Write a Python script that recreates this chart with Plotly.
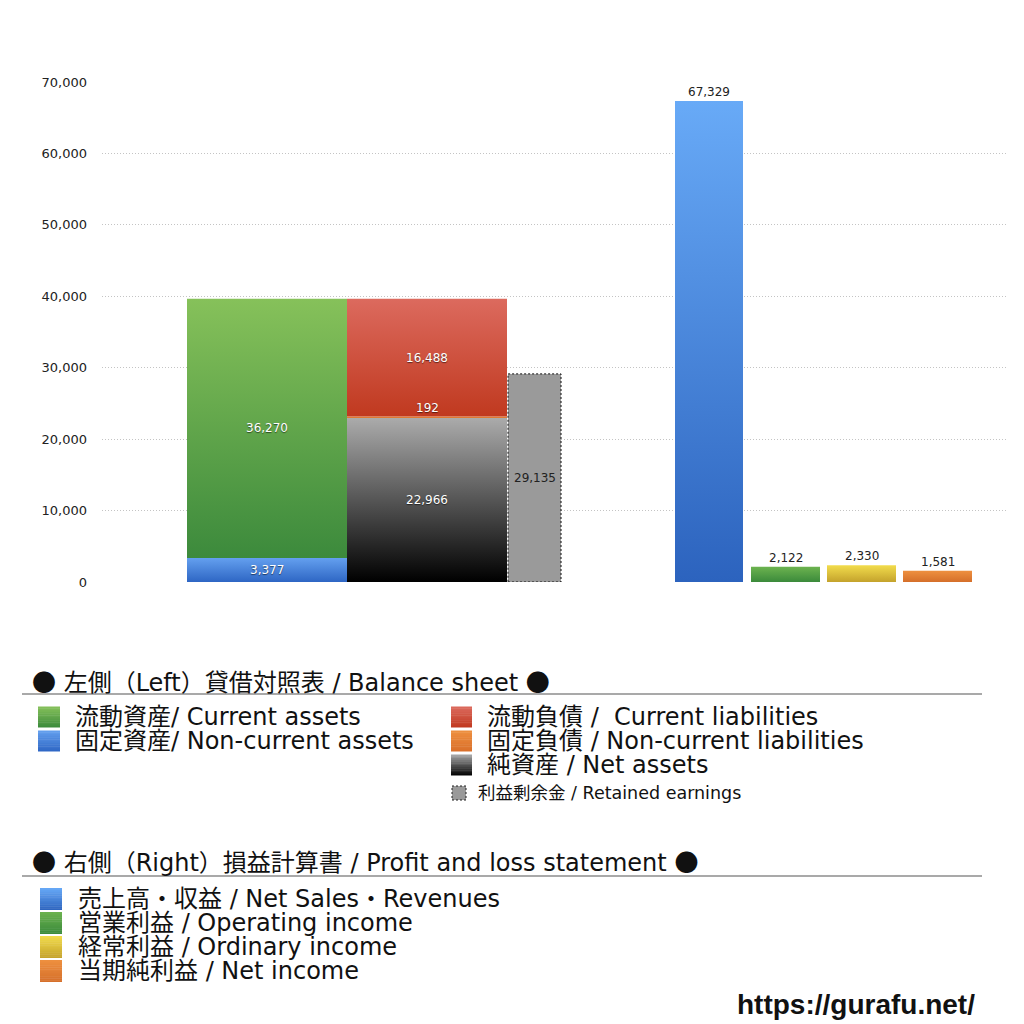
import plotly.graph_objects as go

# ---------------- data ----------------
assets_labels = ["固定資産/ Non-current assets", "流動資産/ Current assets"]
assets_values = [3377, 36270]                      # bottom -> top
liab_labels = ["純資産 / Net assets", "固定負債 / Non-current liabilities", "流動負債 /  Current liabilities"]
liab_values = [22966, 192, 16488]                 # bottom -> top
retained_label = "利益剰余金 / Retained earnings"
retained_value = 29135
pl_labels = ["売上高・収益 / Net Sales・Revenues", "営業利益 / Operating income",
             "経常利益 / Ordinary income", "当期純利益 / Net income"]
pl_values = [67329, 2122, 2330, 1581]
y_ticks = [0, 10000, 20000, 30000, 40000, 50000, 60000, 70000]

# ---------------- styles ----------------
FONT = "DejaVu Sans, Noto Sans CJK JP"
CJK = "Noto Sans CJK JP"
W = H = 1016                  # figure size (page adds an 8px margin)
OFF = 8
PX0, PX1 = 102, 1007          # plot area horizontal extent (page px)
PY_TOP, PY_BOT = 82, 582      # plot area vertical extent (page px)

assets_grad = [("#2e66c4", "#64a0ef"), ("#3c8a3c", "#86c15a")]
liab_grad = [("#000000", "#ababab"), ("#d96f2a", "#ee9040"), ("#c0391f", "#dc6a5e")]
pl_grad = [("#2c63be", "#68aaf7"), ("#3b8a3b", "#6cb34f"), ("#c4a22c", "#f2dc4c"), ("#d56f2a", "#ee9040")]

# slot geometry (in x-axis units = page px)
assets_slot = (187, 347)
liab_slot = (347, 507)
retained_slot = (508, 561)
pl_slots = [(675, 743), (751, 820), (827, 896), (903, 972)]

fig = go.Figure()


def grad_bar(x0, x1, y0, y1, bottom, top):
    fig.add_trace(go.Scatter(
        x=[x0, x1, x1, x0, x0], y=[y0, y0, y1, y1, y0],
        mode="lines", fill="toself", line=dict(width=0),
        fillgradient=dict(type="vertical", colorscale=[[0, bottom], [1, top]]),
        hoverinfo="skip", showlegend=False))


annotations = []


def label(x, y, text, color="white", size=12, yanchor="middle", shadow=True):
    annotations.append(dict(
        x=x, y=y, xref="x", yref="y", text=text, showarrow=False,
        yanchor=yanchor, xanchor="center",
        font=dict(family=FONT, size=size, color=color,
                  shadow="0px 1px 1px rgba(0,0,0,0.55)" if shadow else "none")))


# assets stack
base = 0
for v, (b, t) in zip(assets_values, assets_grad):
    grad_bar(assets_slot[0], assets_slot[1], base, base + v, b, t)
    label((assets_slot[0] + assets_slot[1]) / 2, base + v / 2, f"{v:,}")
    base += v

# liabilities + net assets stack
base = 0
for i, (v, (b, t)) in enumerate(zip(liab_values, liab_grad)):
    grad_bar(liab_slot[0], liab_slot[1], base, base + v, b, t)
    cx = (liab_slot[0] + liab_slot[1]) / 2
    if i == 1:
        label(cx, base + v, f"{v:,}", yanchor="bottom")
    else:
        label(cx, base + v / 2, f"{v:,}")
    base += v

# retained earnings
fig.add_trace(go.Scatter(
    x=[retained_slot[0], retained_slot[1], retained_slot[1], retained_slot[0], retained_slot[0]],
    y=[0, 0, retained_value, retained_value, 0],
    mode="lines", fill="toself", fillcolor="#9a9a9a",
    line=dict(color="#111111", width=1, dash="2px,2px"),
    hoverinfo="skip", showlegend=False))
label((retained_slot[0] + retained_slot[1]) / 2, retained_value / 2, f"{retained_value:,}",
      color="#222222", shadow=False)

# P&L bars
for v, (x0, x1), (b, t) in zip(pl_values, pl_slots, pl_grad):
    grad_bar(x0, x1, 0, v, b, t)
    label((x0 + x1) / 2, v, f"{v:,}", color="#222222", size=12, yanchor="bottom", shadow=False)

# ---------------- legend (custom, paper coords) ----------------
shapes = []


def px(x):
    return (x - OFF) / W


def py(y):
    return 1 - (y - OFF) / H


def grad_square(x0, y0, x1, y1, bottom, top, n=12):
    def mix(c1, c2, f):
        a = [int(c1[i:i + 2], 16) for i in (1, 3, 5)]
        b2 = [int(c2[i:i + 2], 16) for i in (1, 3, 5)]
        return "rgb(%d,%d,%d)" % tuple(round(a[k] + (b2[k] - a[k]) * f) for k in range(3))
    h = (y1 - y0) / n
    for k in range(n):
        f = (k + 0.5) / n
        shapes.append(dict(type="rect", xref="paper", yref="paper",
                           x0=px(x0), x1=px(x1), y0=py(y0 + k * h), y1=py(min(y1, y0 + (k + 1) * h + 0.4)),
                           fillcolor=mix(top, bottom, f), line=dict(width=0), layer="above"))


def text(x, y, s, size=24, color="#111111", anchor="left", bold=False, family=FONT):
    annotations.append(dict(x=px(x), y=py(y), xref="paper", yref="paper", text=f"<b>{s}</b>" if bold else s,
                            showarrow=False, xanchor=anchor, yanchor="middle",
                            font=dict(family=family, size=size, color=color)))


def hline(y):
    shapes.append(dict(type="line", xref="paper", yref="paper", x0=px(22), x1=px(982),
                       y0=py(y), y1=py(y), line=dict(color="#555555", width=1.2)))


DOT = f'<span style="font-family:{CJK}">●</span>'

# Balance sheet header
text(30, 680, f"{DOT} 左側（Left）貸借対照表 / Balance sheet {DOT}")
hline(694)
# left column: current assets, non-current assets
left_rows = [(assets_labels[1], assets_grad[1], 717), (assets_labels[0], assets_grad[0], 741)]
for lab, (b, t), yc in left_rows:
    grad_square(38, yc - 10.5, 60, yc + 10.5, b, t)
    text(73, yc, lab)
# right column: current liabilities, non-current liabilities, net assets
right_rows = [(liab_labels[2], liab_grad[2], 717), (liab_labels[1], liab_grad[1], 741),
              (liab_labels[0], liab_grad[0], 765)]
for lab, (b, t), yc in right_rows:
    grad_square(451, yc - 10.5, 472, yc + 10.5, b, t)
    text(485, yc, lab)
shapes.append(dict(type="rect", xref="paper", yref="paper", x0=px(452), x1=px(466), y0=py(786), y1=py(800),
                   fillcolor="#9a9a9a", line=dict(color="#222222", width=1, dash="2px,2px")))
text(476, 793, retained_label, size=17.5)

# P&L header
text(30, 860, f"{DOT} 右側（Right）損益計算書 / Profit and loss statement {DOT}")
hline(876)
for k, (lab, (b, t)) in enumerate(zip(pl_labels, pl_grad)):
    yc = 899 + 24 * k
    grad_square(40, yc - 11, 62, yc + 11, b, t)
    text(76, yc, lab)

text(977, 1004, "https://gurafu.net/", size=28, anchor="right", bold=True, family="Liberation Sans")

fig.update_layout(
    width=W, height=H,
    margin=dict(l=0, r=0, t=0, b=0, autoexpand=False),
    paper_bgcolor="white", plot_bgcolor="white",
    showlegend=False,
    xaxis=dict(domain=[px(PX0), px(PX1)], range=[PX0, PX1], visible=False, fixedrange=True,
               automargin=False),
    yaxis=dict(domain=[py(PY_BOT), py(PY_TOP)], range=[0, 70000], automargin=False,
               tickvals=y_ticks, ticktext=[f"{v:,}" for v in y_ticks],
               showgrid=True, gridcolor="#c4c4c4", gridwidth=1, griddash="1px,2px",
               zeroline=False, showline=False, ticks="", ticklabelstandoff=14,
               tickfont=dict(family=FONT, size=13, color="#222222")),
    annotations=annotations,
    shapes=shapes,
)

fig.write_html("out.html")
